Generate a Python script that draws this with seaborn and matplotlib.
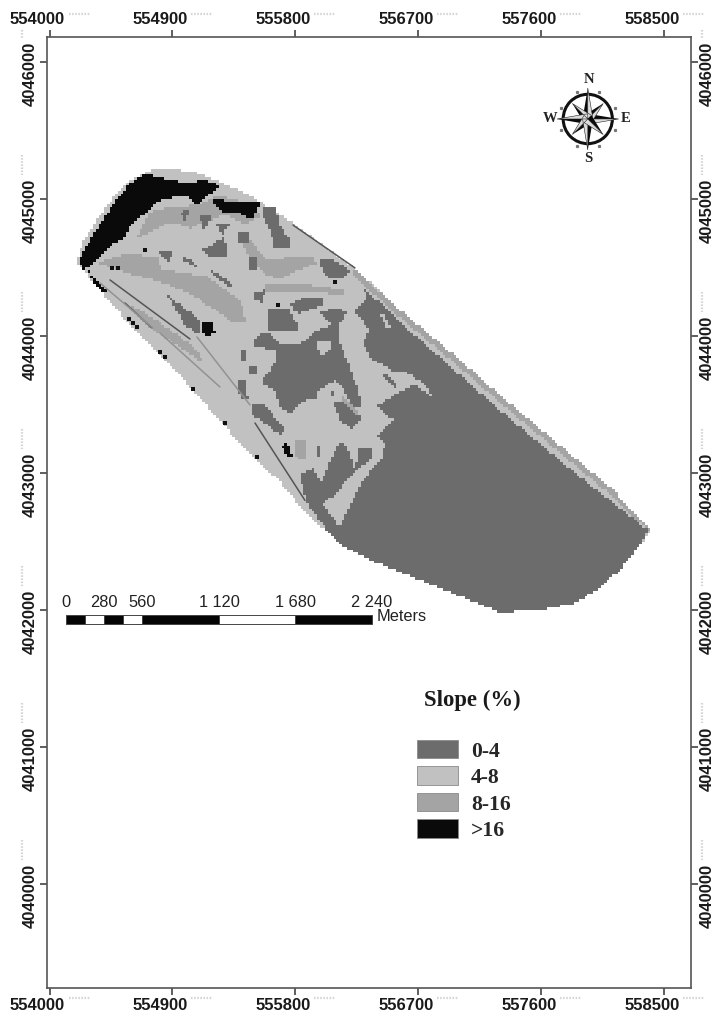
"""
Slope map of the study area, redrawn as a classed raster with seaborn.
All shapes are given in metres, as offsets from EAST0 / NORTH0.
"""

import math

import matplotlib
matplotlib.use("Agg")
import matplotlib.pyplot as plt
import numpy as np
import pandas as pd
import seaborn as sns
from matplotlib.colors import ListedColormap
from matplotlib.lines import Line2D
from matplotlib.patches import Circle, Patch
from matplotlib.path import Path
from matplotlib.transforms import ScaledTranslation

EAST0 = 554000
NORTH0 = 4040000

x_ticks = [554000, 554900, 555800, 556700, 557600, 558500]
y_ticks = [4040000, 4041000, 4042000, 4043000, 4044000, 4045000, 4046000]

slope_labels = ["0-4", "4-8", "8-16", ">16"]
slope_colors = ["#6c6c6c", "#c1c1c1", "#a4a4a4", "#0a0a0a"]

scale_stops = [0, 140, 280, 420, 560, 1120, 1680, 2240]
scale_labels = {0: "0", 280: "280", 560: "560", 1120: "1 120", 1680: "1 680", 2240: "2 240"}

# study area outline
area_outline = [(194, 4540), (253, 4701), (370, 4883), (480, 5029), (590, 5139), (736, 5212),
                (882, 5219), (1065, 5197), (1248, 5124), (1468, 5029), (1783, 4825), (2076, 4606),
                (2251, 4482), (2566, 4190), (3005, 3825), (3298, 3569), (3737, 3204), (4103, 2898),
                (4411, 2584), (4323, 2474), (4176, 2292), (4030, 2161), (3847, 2051), (3591, 2000),
                (3298, 1985), (3078, 2073), (2712, 2219), (2346, 2365), (2127, 2474), (2017, 2584),
                (1871, 2715), (1688, 2934), (1519, 3095), (1285, 3336), (1051, 3606), (809, 3862),
                (568, 4102), (370, 4336), (282, 4438)]

# class 8-16
medium_west = [(348, 4533), (568, 4606), (787, 4577), (831, 4482), (978, 4460), (1153, 4431),
               (1395, 4263), (1446, 4095), (1344, 4095), (1300, 4139), (1175, 4212), (1051, 4300),
               (809, 4395), (568, 4460)]
medium_north = [(736, 4905), (904, 4942), (1102, 4956), (1226, 5029), (1446, 4971), (1556, 4883),
                (1431, 4810), (1285, 4883), (1139, 4832), (1029, 4789), (882, 4832), (736, 4759),
                (626, 4701)]
medium_arc = [(1468, 4701), (1592, 4555), (1783, 4577), (1929, 4577), (1958, 4533), (1783, 4460),
              (1688, 4409), (1563, 4460), (1468, 4555), (1395, 4701)]
medium_band = [(1578, 4387), (1907, 4373), (2163, 4336), (2163, 4300), (1871, 4322), (1578, 4322)]
medium_sw = [(568, 4241), (787, 4117), (1080, 3898), (1124, 3803), (904, 3949), (685, 4095)]
medium_spot = [(1797, 3241), (1871, 3241), (1871, 3095), (1812, 3095)]
medium_ne_edge = [(2237, 4482), (2566, 4190), (3005, 3825), (3298, 3569), (3737, 3204), (4103, 2898),
                  (4411, 2584), (4381, 2584), (4081, 2861), (3715, 3168), (3276, 3533), (2983, 3789),
                  (2544, 4154), (2215, 4445)]

# class 0-4
flat_southeast = [(2295, 4358), (2712, 3971), (3298, 3460), (3884, 2971), (4381, 2584), (4323, 2474),
                  (4176, 2292), (4030, 2161), (3847, 2051), (3591, 2000), (3298, 1985), (3078, 2073),
                  (2712, 2219), (2346, 2365), (2127, 2474), (2032, 2584), (1885, 2781), (1834, 2985),
                  (1929, 3037), (1988, 2927), (2105, 3204), (2163, 3226), (2237, 3022), (2273, 3190),
                  (2368, 3183), (2361, 3110), (2237, 3007), (2105, 2861), (2002, 2766), (2127, 2606),
                  (2295, 2949), (2442, 3117), (2456, 3219), (2398, 3277), (2515, 3387), (2398, 3482),
                  (2544, 3584), (2676, 3642), (2822, 3548), (2727, 3664), (2617, 3730), (2544, 3730),
                  (2398, 3810), (2346, 3847), (2295, 3949), (2346, 4044), (2237, 4175), (2324, 4285)]
flat_central = [(1490, 3956), (1556, 4022), (1629, 4007), (1688, 3949), (1834, 3949), (1885, 3971),
                (1958, 4044), (2076, 4080), (1980, 4168), (2076, 4205), (2185, 4175), (2127, 4095),
                (2112, 3993), (2178, 3825), (2251, 3628), (2288, 3482), (2222, 3482), (2149, 3628),
                (2090, 3679), (2068, 3555), (1929, 3548), (1856, 3518), (1761, 3438), (1688, 3482),
                (1651, 3606), (1541, 3657), (1666, 3825), (1651, 3898), (1505, 3920)]
flat_lobe = [(2076, 3518), (2163, 3518), (2288, 3402), (2215, 3314), (2127, 3387)]
flat_patches = [
    [(1592, 4205), (1746, 4205), (1819, 4080), (1819, 4044), (1592, 4044)],
    [(1980, 4555), (2076, 4555), (2200, 4482), (2163, 4424), (2054, 4424), (1995, 4467)],
    [(1761, 4227), (1871, 4285), (2002, 4278), (2002, 4227), (1871, 4175), (1834, 4168), (1783, 4190)],
    [(1563, 4935), (1651, 4935), (1688, 4810), (1761, 4701), (1746, 4628), (1651, 4643), (1614, 4774), (1563, 4883)],
    [(860, 4300), (1102, 4117), (1087, 4008), (992, 4080)],
    [(795, 4628), (897, 4628), (882, 4518)],
    [(970, 4591), (1087, 4518), (1065, 4504), (970, 4555)],
    [(1124, 4628), (1285, 4723), (1300, 4591), (1175, 4577)],
    [(956, 4905), (1029, 4920), (992, 4832)],
    [(1102, 4883), (1190, 4883), (1124, 4759)],
    [(1226, 4810), (1322, 4810), (1263, 4737)],
    [(1175, 4482), (1307, 4409), (1358, 4336), (1248, 4409)],
    [(1380, 3679), (1431, 3679), (1453, 3533), (1395, 3533)],
    [(1483, 3511), (1578, 3497), (1724, 3314), (1688, 3277), (1541, 3387), (1483, 3424)],
    [(1453, 3774), (1527, 3774), (1527, 3715), (1468, 3715)],
    [(1958, 3204), (1980, 3204), (1980, 3117), (1958, 3117)],
    [(1395, 3898), (1438, 3898), (1438, 3825), (1395, 3825)],
    [(1373, 4759), (1468, 4759), (1468, 4686), (1373, 4686)],
    [(1490, 4314), (1578, 4336), (1556, 4241), (1505, 4263)],
    [(1453, 4577), (1519, 4577), (1519, 4482), (1453, 4482)],
    [(2434, 3715), (2478, 3715), (2544, 3642), (2522, 3621)],
]

# class 4-8 holes on top of the dark areas
light_holes = [
    [(1958, 3949), (2076, 3971), (2039, 3876), (1980, 3862)],
    [(1966, 3606), (2076, 3664), (2068, 3569), (1966, 3555)],
    [(2420, 4153), (2456, 4153), (2500, 4058), (2478, 4044)],
]
medium_streak = [(2127, 3555), (2163, 3555), (2273, 3446), (2251, 3416)]

# class >16
steep_north = [(209, 4555), (275, 4664), (392, 4847), (494, 4998), (590, 5117), (714, 5190),
               (809, 5154), (904, 5139), (1007, 5117), (1124, 5139), (1248, 5103), (1153, 5015),
               (1080, 4956), (1007, 5015), (860, 5008), (787, 4971), (736, 4920), (663, 4869),
               (590, 4796), (538, 4701), (465, 4679), (392, 4606), (297, 4504), (246, 4482)]
steep_ridge = [(1197, 5015), (1248, 4993), (1395, 4978), (1541, 4971), (1519, 4920), (1483, 4847),
               (1395, 4898), (1270, 4905), (1212, 4942)]
steep_spot = [(1117, 4095), (1197, 4095), (1212, 4029), (1161, 4000), (1124, 4022)]
steep_tip = [(282, 4482), (392, 4351), (443, 4314), (392, 4321), (311, 4409)]
steep_south = [(1702, 3204), (1739, 3219), (1783, 3117), (1746, 3110)]

dots_east = [582, 611, 641, 809, 846, 1051, 1285, 1519, 458, 502, 1673, 2090, 699]
dots_north = [4124, 4095, 4066, 3883, 3847, 3613, 3365, 3117, 4497, 4497, 4227, 4395, 4628]

# thin lines running out from the western tip, and the dark stretch of the north edge
line_dark = [[(443, 4409), (1029, 3978)], [(1505, 3365), (1871, 2800)], [(553, 4241), (751, 4058)],
             [(1783, 4810), (2237, 4497)]]
line_mid = [[(1080, 3993), (1468, 3497)], [(370, 4387), (758, 4058)], [(809, 4022), (1248, 3628)]]

# raster grid, 20 m cells
CELL = 20
GRID_W = 100
GRID_E = 4500
GRID_S = 1900
GRID_N = 5300

WIDTH = 717
HEIGHT = 1015


def cx(east):
    return (east - GRID_W) / CELL


def cy(north):
    return (GRID_N - north) / CELL


def paint(grid, centres, polygon, value):
    inside = Path(polygon).contains_points(centres).reshape(grid.shape)
    grid[inside] = value


def build_grid():
    east = np.arange(GRID_W, GRID_E, CELL) + CELL / 2
    north = GRID_N - np.arange(0, GRID_N - GRID_S, CELL) - CELL / 2
    xx, yy = np.meshgrid(east, north)
    centres = np.column_stack([xx.ravel(), yy.ravel()])
    grid = np.full(xx.shape, np.nan)

    paint(grid, centres, area_outline, 1)
    for poly in [medium_west, medium_north, medium_arc, medium_band, medium_sw, medium_spot, medium_ne_edge]:
        paint(grid, centres, poly, 2)
    for poly in [flat_southeast, flat_central, flat_lobe] + flat_patches:
        paint(grid, centres, poly, 0)
    for poly in light_holes:
        paint(grid, centres, poly, 1)
    paint(grid, centres, medium_streak, 2)
    for poly in [steep_north, steep_ridge, steep_spot, steep_tip, steep_south]:
        paint(grid, centres, poly, 3)
    return pd.DataFrame(grid)


def draw_scale_bar(ax):
    start, top, bottom = 121, 1963, 1898
    for i in range(len(scale_stops) - 1):
        a = cx(start + scale_stops[i])
        b = cx(start + scale_stops[i + 1])
        face = "#050505" if i % 2 == 0 else "white"
        ax.fill([a, b, b, a], [cy(top), cy(top), cy(bottom), cy(bottom)],
                facecolor=face, edgecolor="#444444", linewidth=0.7)
    for stop, text in scale_labels.items():
        ax.text(cx(start + stop), cy(2058), text, fontsize=11.8, ha="center", va="center",
                color="#222222", family="Liberation Sans")
    ax.text(cx(2398), cy(1949), "Meters", fontsize=11.8, ha="left", va="center",
            color="#222222", family="Liberation Sans")


def draw_compass(ax):
    x0, y0 = cx(3942), cy(5584)
    ax.add_patch(Circle((x0, y0), 9.0, fill=False, edgecolor="#111111", linewidth=2.2, zorder=3))
    for k in range(8):
        angle = math.radians(45 * k)
        long_point = k % 2 == 0
        r = 11.3 if long_point else 8.0
        w = 1.9
        tip = (x0 + r * math.cos(angle), y0 - r * math.sin(angle))
        left = (x0 + w * math.cos(angle + math.pi / 2), y0 - w * math.sin(angle + math.pi / 2))
        right = (x0 + w * math.cos(angle - math.pi / 2), y0 - w * math.sin(angle - math.pi / 2))
        ax.fill([x0, tip[0], left[0]], [y0, tip[1], left[1]], color="#0a0a0a", zorder=4, linewidth=0)
        ax.fill([x0, tip[0], right[0]], [y0, tip[1], right[1]], facecolor="#dddddd",
                edgecolor="#222222", linewidth=0.4, zorder=4)
    for k in range(8):
        angle = math.radians(22.5 + 45 * k)
        ax.plot(x0 + 10.6 * math.cos(angle), y0 - 10.6 * math.sin(angle), "s", ms=1.3,
                color="#777777", zorder=2)
    for text, east, north in [("N", 3949, 5869), ("S", 3949, 5292), ("W", 3664, 5584), ("E", 4221, 5584)]:
        ax.text(cx(east), cy(north), text, fontsize=10.5, fontweight="bold", ha="center", va="center",
                family="Liberation Serif", color="#222222")


def faint_mark(fig, x1, y1, x2, y2):
    # dotted traces that sit beside each coordinate label, in pixels from the top left
    fig.add_artist(Line2D([x1 / WIDTH, x2 / WIDTH], [1 - y1 / HEIGHT, 1 - y2 / HEIGHT],
                          transform=fig.transFigure, color="#d4d4d4", linewidth=1.6, linestyle=(0, (0.7, 0.7))))


def style_ticks(ax):
    fig = ax.figure
    xt = [cx(v - EAST0) for v in x_ticks]
    yt = [cy(v - NORTH0) for v in y_ticks]
    ax.set_xticks(xt, [str(v) for v in x_ticks])
    ax.set_yticks(yt, [str(v) for v in y_ticks])
    ax.tick_params(axis="both", which="major", length=4.7, width=1.1, color="#333333", labelsize=12,
                   labelcolor="#1a1a1a", top=True, bottom=True, left=True, right=True,
                   labeltop=True, labelbottom=True, labelleft=True, labelright=True)
    ax.tick_params(axis="x", pad=2.5)
    ax.tick_params(axis="y", pad=1.8)

    shift_x = ScaledTranslation(-12 / 100, 0, fig.dpi_scale_trans)
    shift_y = ScaledTranslation(0, -12 / 100, fig.dpi_scale_trans)
    for tick in ax.xaxis.get_major_ticks():
        for label in (tick.label1, tick.label2):
            label.set_fontweight("bold")
            label.set_rotation(0)
            label.set_transform(label.get_transform() + shift_x)
    for tick in ax.yaxis.get_major_ticks():
        for label in (tick.label1, tick.label2):
            label.set_fontweight("bold")
            label.set_rotation(90)
            label.set_va("center")
            label.set_transform(label.get_transform() + shift_y)

    for v in xt:
        px = ax.transData.transform((v, 0))[0]
        faint_mark(fig, px + 19, 14, px + 40, 14)
        faint_mark(fig, px + 19, 998, px + 40, 998)
    for v in yt:
        py = HEIGHT - ax.transData.transform((0, v))[1]
        top = max(py - 44, 30)
        faint_mark(fig, 22, top, 22, py - 24)
        faint_mark(fig, 702, top, 702, py - 24)


def main():
    sns.set_theme(style="white")
    plt.rcParams["font.family"] = ["Liberation Sans", "DejaVu Sans"]

    fig = plt.figure(figsize=(WIDTH / 100, HEIGHT / 100), dpi=100)
    ax = fig.add_axes([46.5 / WIDTH, 1 - 988 / HEIGHT, 644.5 / WIDTH, 951.5 / HEIGHT])

    sns.heatmap(build_grid(), ax=ax, cmap=ListedColormap(slope_colors), vmin=-0.5, vmax=3.5, cbar=False,
                xticklabels=False, yticklabels=False, linewidths=0, rasterized=True)

    for segment in line_dark:
        east, north = zip(*segment)
        sns.lineplot(x=[cx(v) for v in east], y=[cy(v) for v in north], color="#555555", linewidth=1.1,
                     sort=False, estimator=None, ax=ax)
    for segment in line_mid:
        east, north = zip(*segment)
        sns.lineplot(x=[cx(v) for v in east], y=[cy(v) for v in north], color="#929292", linewidth=1.1,
                     sort=False, estimator=None, ax=ax)
    sns.scatterplot(x=[cx(v) for v in dots_east], y=[cy(v) for v in dots_north], marker="s", s=9,
                    color="#111111", linewidth=0, ax=ax)

    draw_scale_bar(ax)
    draw_compass(ax)

    # legend
    handles = [Patch(facecolor=c, edgecolor="#8a8a8a", linewidth=0.6) for c in slope_colors]
    ax.text(cx(3093), cy(1338), "Slope (%)", fontsize=16.4, fontweight="bold", ha="center", va="center",
            family="Liberation Serif", color="#1a1a1a")
    ax.legend(handles, slope_labels, loc="upper left", bbox_to_anchor=(cx(2690), cy(1051)),
              bbox_transform=ax.transData, frameon=False, borderpad=0, borderaxespad=0,
              handlelength=1.89, handleheight=0.92, handletextpad=0.6, labelspacing=0.225,
              prop={"family": "Liberation Serif", "weight": "bold", "size": 15.6})

    ax.set_xlim(cx(-22), cx(4698))
    ax.set_ylim(cy(-759), cy(6186))
    ax.set_xlabel("")
    ax.set_ylabel("")
    style_ticks(ax)

    for spine in ax.spines.values():
        spine.set_visible(True)
        spine.set_color("#555555")
        spine.set_linewidth(1.2)

    fig.savefig("out.png", dpi=100, facecolor="white")


if __name__ == "__main__":
    main()
